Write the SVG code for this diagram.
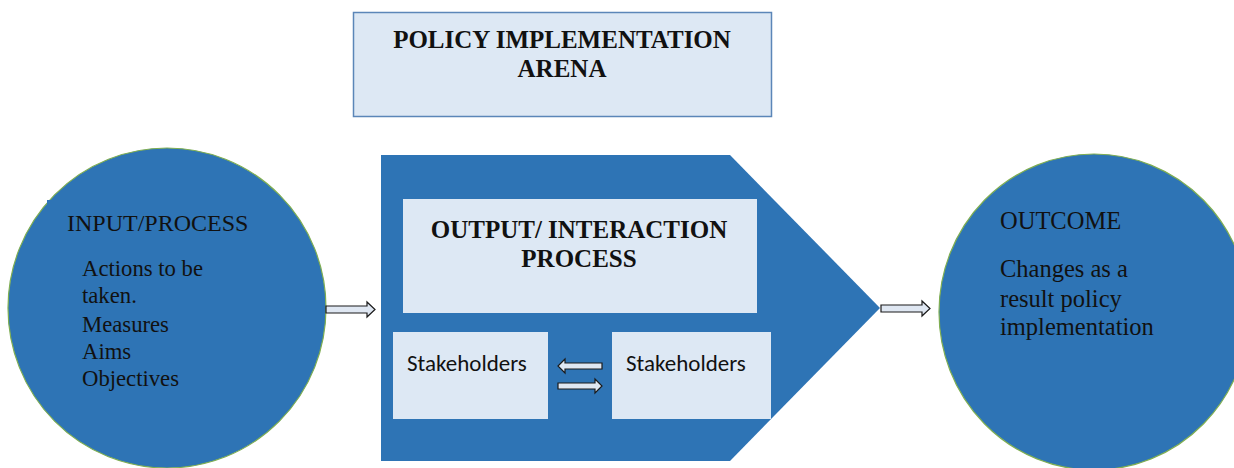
<svg xmlns="http://www.w3.org/2000/svg" width="1234" height="468" viewBox="0 0 1234 468">
<style>
.serif{font-family:"Liberation Serif","Times New Roman",serif;fill:#111}
.bold{font-weight:bold}
.sans{font-family:"Carlito","Liberation Sans",Arial,sans-serif;fill:#111}
.lightbox{fill:#dde8f4}
.blue{fill:#2e74b5}
.circ{fill:#2e74b5;stroke:#7fae52;stroke-width:1.2}
.arrow{fill:#dfe7f2;stroke:#1a1a1a;stroke-width:1.2;stroke-linejoin:miter}
</style>
<rect width="1234" height="468" fill="#ffffff"/>
<g id="arena">
<rect x="353.5" y="12.5" width="418" height="104" class="lightbox" stroke="#5b86b8" stroke-width="1.5"/>
<text class="serif bold" x="562" y="48" font-size="25" text-anchor="middle">POLICY IMPLEMENTATION</text>
<text class="serif bold" x="562" y="77" font-size="25" text-anchor="middle">ARENA</text>
</g>
<g id="input">
<ellipse class="circ" cx="167" cy="308" rx="159" ry="160"/>
<rect x="47" y="200" width="230" height="50" class="blue"/>
<text class="serif" x="67" y="231" font-size="24">INPUT/PROCESS</text>
<text class="serif" x="82" y="276" font-size="22.7">Actions to be</text>
<text class="serif" x="82" y="303" font-size="22.7">taken.</text>
<text class="serif" x="82" y="332" font-size="22.7">Measures</text>
<text class="serif" x="82" y="359" font-size="22.7">Aims</text>
<text class="serif" x="82" y="386" font-size="22.7">Objectives</text>
</g>
<g id="output">
<polygon class="blue" points="381,155 730,155 880,308 730,461 381,461"/>
<rect x="403" y="199" width="354" height="114" class="lightbox"/>
<text class="serif bold" x="579" y="238" font-size="25" text-anchor="middle">OUTPUT/ INTERACTION</text>
<text class="serif bold" x="579" y="267" font-size="25" text-anchor="middle">PROCESS</text>
</g>
<g id="stakeholders1">
<rect x="393" y="332" width="155" height="87" class="lightbox"/>
<text class="sans" x="407" y="371" font-size="23">Stakeholders</text>
</g>
<g id="stakeholders2">
<rect x="612" y="332" width="159" height="87" class="lightbox"/>
<text class="sans" x="626" y="371" font-size="23">Stakeholders</text>
</g>
<g id="outcome">
<ellipse class="circ" cx="1094" cy="312" rx="155" ry="158"/>
<text class="serif" x="1000" y="229" font-size="24.5">OUTCOME</text>
<text class="serif" x="1000" y="277" font-size="24.5">Changes as a</text>
<text class="serif" x="1000" y="307" font-size="24.5">result policy</text>
<text class="serif" x="1000" y="335" font-size="24.5">implementation</text>
</g>
<g id="connectors">
<polygon class="arrow" points="326,306 367,306 367,302 375,309.5 367,317 367,313 326,313"/>
<polygon class="arrow" points="881,305 922,305 922,301 930,308.5 922,316 922,312 881,312"/>
<polygon class="arrow" points="602,363 565,363 565,359 558,366 565,373 565,369 602,369"/>
<polygon class="arrow" points="558,383 595,383 595,379 602,386 595,393 595,389 558,389"/>
</g>
</svg>
